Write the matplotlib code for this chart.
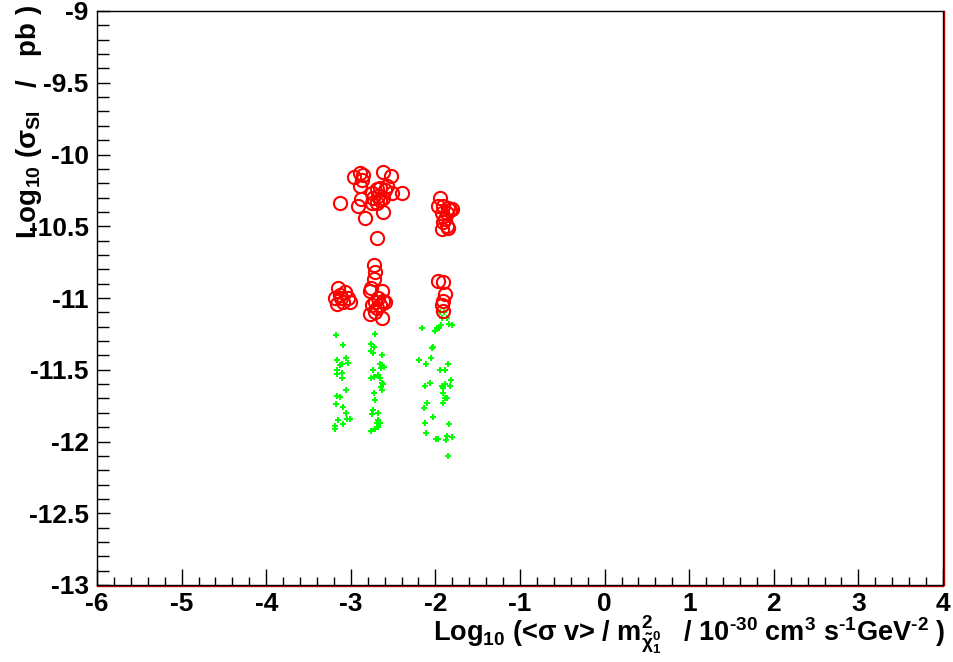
import matplotlib
matplotlib.use("Agg")
import matplotlib.pyplot as plt
from matplotlib.lines import Line2D
from matplotlib.ticker import MultipleLocator
import matplotlib.transforms as mtransforms

plt.rcParams["font.family"] = ["Liberation Sans", "DejaVu Sans"]
plt.rcParams["font.weight"] = "bold"
plt.rcParams["mathtext.fontset"] = "custom"
plt.rcParams["mathtext.rm"] = "Liberation Sans:bold"
plt.rcParams["mathtext.bf"] = "Liberation Sans:bold"
plt.rcParams["mathtext.it"] = "Liberation Sans:bold"
plt.rcParams["mathtext.default"] = "regular"

# Points with sigma_SI above the cut (open red circles)
red_x = [-3.13, -2.96, -2.89, -2.86, -2.87, -2.89, -2.62, -2.52, -2.40, -2.92,
         -2.88, -2.83, -2.69, -2.62, -2.75, -2.69, -2.65, -2.60, -2.51, -2.74,
         -2.68, -2.65, -2.75, -2.69, -2.62, -2.57,
         -3.15, -3.19, -3.13, -3.07, -3.03, -3.09, -3.16, -3.01, -3.12,
         -2.73, -2.71, -2.73, -2.76, -2.77, -2.63, -2.68, -2.71, -2.62, -2.75,
         -2.65, -2.77, -2.71, -2.63, -2.60, -2.69,
         -1.95, -1.97, -1.91, -1.85, -1.80, -1.92, -1.86, -1.83, -1.91, -1.86,
         -1.92, -1.85, -1.89,
         -1.97, -1.91, -1.89, -1.91, -1.92, -1.91]
red_y = [-10.34, -10.16, -10.13, -10.14, -10.18, -10.22, -10.12, -10.15, -10.27, -10.36,
         -10.31, -10.44, -10.58, -10.40, -10.27, -10.24, -10.23, -10.25, -10.27, -10.30,
         -10.29, -10.32, -10.34, -10.34, -10.30, -10.22,
         -10.93, -11.00, -10.98, -10.96, -11.00, -11.03, -11.04, -11.03, -11.00,
         -10.77, -10.82, -10.87, -10.93, -10.95, -10.95, -11.00, -11.03, -11.02, -11.05,
         -11.05, -11.11, -11.10, -11.14, -11.03, -11.07,
         -10.30, -10.36, -10.36, -10.37, -10.38, -10.41, -10.41, -10.39, -10.47, -10.50,
         -10.52, -10.51, -10.45,
         -10.88, -10.89, -10.97, -11.02, -11.05, -11.09]

# Points below (small green dots)
green_x = [-3.18, -3.09, -3.16, -3.06, -3.03, -3.13, -3.10, -3.16, -3.10, -3.16,
           -3.10, -3.06, -3.16, -3.13, -3.18, -3.09, -3.06, -3.15, -3.05, -3.01,
           -3.09, -3.19, -3.19,
           -2.71, -2.76, -2.73, -2.76, -2.74, -2.63, -2.65, -2.63, -2.61, -2.74,
           -2.64, -2.68, -2.73, -2.76, -2.65, -2.63, -2.62, -2.64, -2.63, -2.73,
           -2.71, -2.74, -2.68, -2.75, -2.68, -2.69, -2.65, -2.68, -2.71, -2.76,
           -1.95, -1.90, -1.92, -1.86, -2.16, -1.98, -1.96, -2.01, -1.93, -1.84,
           -1.80, -2.03, -2.04, -2.19, -2.11, -2.05, -1.85, -1.95, -1.89, -1.82,
           -2.06, -2.12, -1.92, -1.89, -1.83, -1.91, -1.91, -1.89, -1.86, -1.91,
           -2.10, -2.13, -2.03, -2.12, -1.84, -2.11, -1.99, -1.97, -1.86, -1.80,
           -1.88, -1.85]
green_y = [-11.26, -11.33, -11.43, -11.42, -11.45, -11.47, -11.46, -11.50, -11.52, -11.53,
           -11.56, -11.64, -11.68, -11.69, -11.74, -11.76, -11.80, -11.85, -11.84, -11.84,
           -11.88, -11.89, -11.91,
           -11.25, -11.32, -11.34, -11.37, -11.38, -11.40, -11.46, -11.47, -11.48, -11.50,
           -11.49, -11.54, -11.55, -11.56, -11.56, -11.59, -11.60, -11.62, -11.64, -11.66,
           -11.71, -11.78, -11.80, -11.81, -11.85, -11.87, -11.87, -11.90, -11.91, -11.93,
           -11.10, -11.10, -11.14, -11.14, -11.21, -11.21, -11.21, -11.23, -11.19, -11.18,
           -11.19, -11.34, -11.35, -11.43, -11.46, -11.42, -11.46, -11.50, -11.50, -11.57,
           -11.59, -11.61, -11.61, -11.60, -11.61, -11.63, -11.66, -11.70, -11.70, -11.73,
           -11.73, -11.77, -11.83, -11.87, -11.88, -11.94, -11.98, -11.98, -11.96, -11.97,
           -11.99, -12.10]

x_ticks = [-6, -5, -4, -3, -2, -1, 0, 1, 2, 3, 4]
y_ticks = [-13, -12.5, -12, -11.5, -11, -10.5, -10, -9.5, -9]
x_ticklabels = ["-6", "-5", "-4", "-3", "-2", "-1", "0", "1", "2", "3", "4"]
y_ticklabels = ["-13", "-12.5", "-12", "-11.5", "-11", "-10.5", "-10", "-9.5", "-9"]

fig = plt.figure(figsize=(9.54, 6.62), dpi=100)
ax = fig.add_axes([97 / 954, 77 / 662, 846 / 954, 574 / 662])

ax.plot(green_x, green_y, linestyle="none", marker="P", markersize=4.0,
        color="#00ff00", markeredgewidth=0)
ax.plot(red_x, red_y, linestyle="none", marker="o", markersize=9.5,
        markerfacecolor="none", markeredgecolor="#ff0000", markeredgewidth=1.5)

ax.set_xlim(-6, 4)
ax.set_ylim(-13, -9)
ax.set_xticks(x_ticks)
ax.set_xticklabels(x_ticklabels)
ax.set_yticks(y_ticks)
ax.set_yticklabels(y_ticklabels)
ax.xaxis.set_minor_locator(MultipleLocator(0.2))
ax.yaxis.set_minor_locator(MultipleLocator(0.1))

ax.tick_params(axis="x", which="major", direction="in", length=11.5, width=1.0,
               labelsize=19, pad=5, top=False)
ax.tick_params(axis="x", which="minor", direction="in", length=5.8, width=1.0, top=False)
ax.tick_params(axis="y", which="major", direction="in", length=9.5, width=1.0,
               labelsize=19, pad=6, right=False)
ax.tick_params(axis="y", which="minor", direction="in", length=8.5, width=1.0, right=False)
for lbl in ax.get_xticklabels() + ax.get_yticklabels():
    lbl.set_fontweight("bold")

for sp in ax.spines.values():
    sp.set_linewidth(1.0)
    sp.set_color("black")

# red frame lines along the bottom and right edges
off_down = mtransforms.ScaledTranslation(0, -1 / 100, fig.dpi_scale_trans)
off_right = mtransforms.ScaledTranslation(1 / 100, 0, fig.dpi_scale_trans)
ax.add_line(Line2D([0, 1], [0, 0], transform=ax.transAxes + off_down,
                   color="#cc0000", linewidth=1.0, clip_on=False))
ax.add_line(Line2D([1, 1], [0, 1], transform=ax.transAxes + off_right,
                   color="#cc0000", linewidth=1.0, clip_on=False))

ax.set_xlabel(r"Log$_{10}$ (<σ v> / m$^{2}_{\tilde{\chi}^{0}_{1}}$   / 10$^{\text{-30}}$ cm$^{3}$ s$^{\text{-1}}$GeV$^{\text{-2}}$ )",
              fontsize=19.5, fontweight="bold", loc="right")
ax.xaxis.set_label_coords(1.003, -0.05)
ax.set_ylabel(r"Log$_{10}$ (σ$_{SI}$   /   pb )", fontsize=20, fontweight="bold",
              loc="top")
ax.yaxis.set_label_coords(-0.063, 1.01)

fig.savefig("out.png", dpi=100)
